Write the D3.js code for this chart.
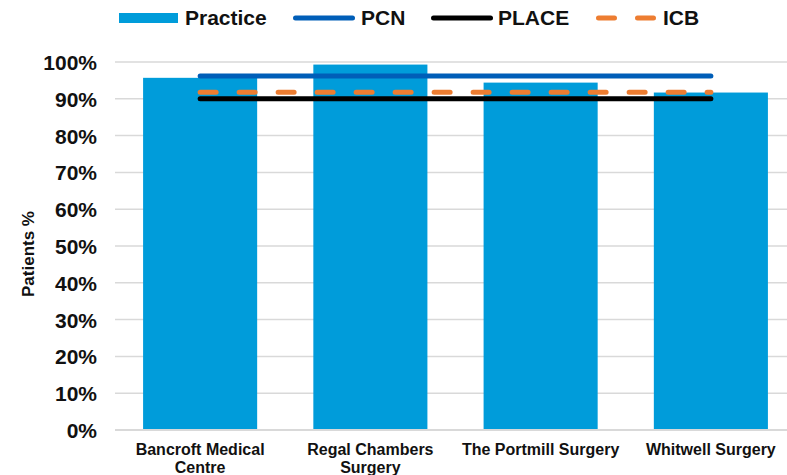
<!DOCTYPE html>
<html>
<head>
<meta charset="utf-8">
<script src="https://cdn.jsdelivr.net/npm/d3@7"></script>
<style>
  html, body { margin: 0; padding: 0; background: #fff; }
  svg { display: block; font-family: "Liberation Sans", Arial, sans-serif; }
</style>
</head>
<body>
<svg id="chart" width="787" height="475"></svg>
<script>
// ---- data ----
const categories = [["Bancroft Medical", "Centre"], ["Regal Chambers", "Surgery"], ["The Portmill Surgery"], ["Whitwell Surgery"]];
const practiceValues = [95.7, 99.3, 94.4, 91.7];
const pcnValues = [96.2, 96.2, 96.2, 96.2];
const placeValues = [90.0, 90.0, 90.0, 90.0];
const icbValues = [91.8, 91.8, 91.8, 91.8];
const yTicks = [0, 10, 20, 30, 40, 50, 60, 70, 80, 90, 100];
const legendLabels = ["Practice", "PCN", "PLACE", "ICB"];

// ---- layout ----
const svg = d3.select("#chart");
const keys = categories.map((c, i) => i);
const x = d3.scaleBand().domain(keys).range([115, 796]).paddingInner(0.33).paddingOuter(0.165);
const y = d3.scaleLinear().domain([0, 100]).range([430, 62]);

const colors = { practice: "#009CDA", pcn: "#005EB8", place: "#000000", icb: "#ED7D31" };

// gridlines
svg.append("g").selectAll("line").data(yTicks.filter(t => t > 0)).join("line")
  .attr("x1", 115).attr("x2", 787)
  .attr("y1", d => y(d)).attr("y2", d => y(d))
  .attr("stroke", "#d9d9d9").attr("stroke-width", 1.5);

// y tick labels
const yAxis = d3.axisLeft(y).tickValues(yTicks).tickFormat(d => d + "%").tickSize(0).tickPadding(0);
const yg = svg.append("g").attr("transform", "translate(97,0)").call(yAxis);
yg.select(".domain").remove();
yg.selectAll("text").attr("font-size", 21).attr("font-weight", "bold").attr("fill", "#111")
  .attr("font-family", "Liberation Sans, Arial, sans-serif").attr("dy", "0.36em");

// axis title
svg.append("text").attr("transform", "translate(34,254) rotate(-90)")
  .attr("text-anchor", "middle").attr("font-size", 17).attr("font-weight", "bold").attr("fill", "#111")
  .text("Patients %");

// bars
svg.append("g").selectAll("rect").data(practiceValues).join("rect")
  .attr("x", (d, i) => x(i)).attr("width", x.bandwidth())
  .attr("y", d => y(d)).attr("height", d => y(0) - y(d))
  .attr("fill", colors.practice);

// x axis line
svg.append("line").attr("x1", 115).attr("x2", 787).attr("y1", y(0)).attr("y2", y(0))
  .attr("stroke", "#d9d9d9").attr("stroke-width", 2);

// category labels
const cg = svg.append("g").selectAll("text").data(categories).join("text")
  .attr("text-anchor", "middle").attr("font-size", 16).attr("font-weight", "bold").attr("fill", "#111")
  .attr("x", (d, i) => x(i) + x.bandwidth() / 2).attr("y", 454.5);
cg.selectAll("tspan").data(d => d).join("tspan")
  .attr("x", function () { return d3.select(this.parentNode).attr("x"); })
  .attr("dy", (d, i) => i === 0 ? 0 : 18.5)
  .text(d => d);

// benchmark lines
const line = d3.line().x((d, i) => x(i) + x.bandwidth() / 2).y(d => y(d));
svg.append("path").datum(pcnValues).attr("d", line).attr("fill", "none")
  .attr("stroke", colors.pcn).attr("stroke-width", 5).attr("stroke-linecap", "round");
svg.append("path").datum(placeValues).attr("d", line).attr("fill", "none")
  .attr("stroke", colors.place).attr("stroke-width", 5).attr("stroke-linecap", "round");
svg.append("path").datum(icbValues).attr("d", line).attr("fill", "none")
  .attr("stroke", colors.icb).attr("stroke-width", 5).attr("stroke-linecap", "round")
  .attr("stroke-dasharray", "16,23");

// legend
const lg = svg.append("g").attr("font-size", 21).attr("font-weight", "bold").attr("fill", "#111");
lg.append("rect").attr("x", 119).attr("y", 13).attr("width", 59).attr("height", 10).attr("fill", colors.practice);
lg.append("text").attr("x", 185).attr("y", 25).text(legendLabels[0]);
lg.append("line").attr("x1", 295.5).attr("x2", 352.5).attr("y1", 18).attr("y2", 18)
  .attr("stroke", colors.pcn).attr("stroke-width", 5).attr("stroke-linecap", "round");
lg.append("text").attr("x", 361).attr("y", 25).text(legendLabels[1]);
lg.append("line").attr("x1", 433.5).attr("x2", 490.5).attr("y1", 18).attr("y2", 18)
  .attr("stroke", colors.place).attr("stroke-width", 5).attr("stroke-linecap", "round");
lg.append("text").attr("x", 498).attr("y", 25).text(legendLabels[2]);
lg.append("line").attr("x1", 598.5).attr("x2", 654.5).attr("y1", 18).attr("y2", 18)
  .attr("stroke", colors.icb).attr("stroke-width", 5).attr("stroke-linecap", "round")
  .attr("stroke-dasharray", "16,23");
lg.append("text").attr("x", 663).attr("y", 25).text(legendLabels[3]);
</script>
</body>
</html>
